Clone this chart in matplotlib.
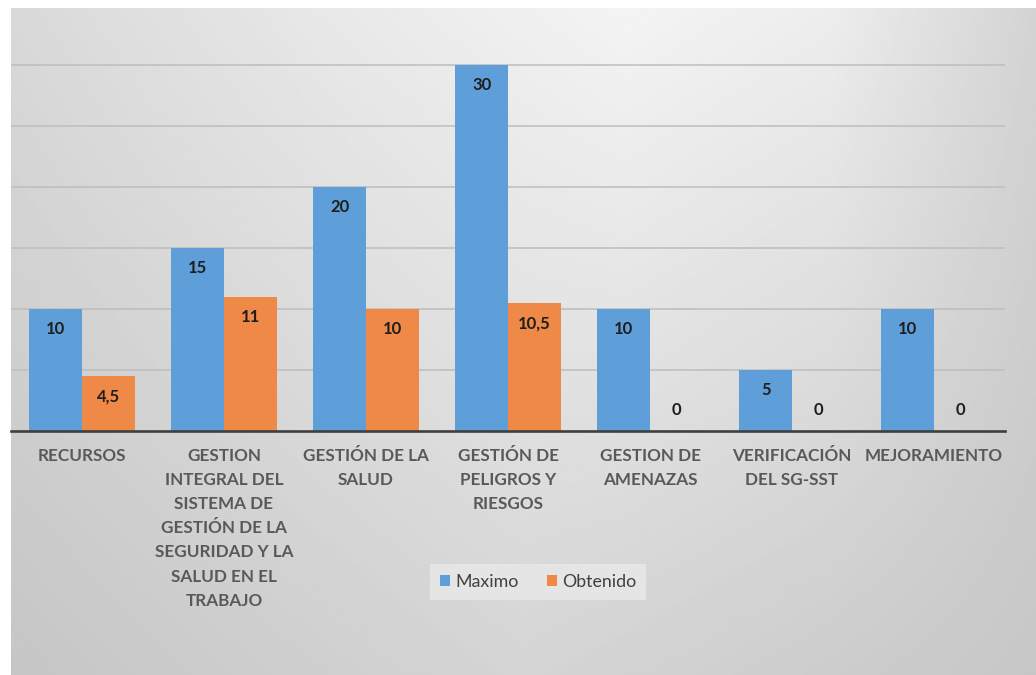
import numpy as np
import matplotlib
matplotlib.use("Agg")
import matplotlib.pyplot as plt

categorias = ["RECURSOS",
              "GESTION\nINTEGRAL DEL\nSISTEMA DE\nGESTIÓN DE LA\nSEGURIDAD Y LA\nSALUD EN EL\nTRABAJO",
              "GESTIÓN DE LA\nSALUD",
              "GESTIÓN DE\nPELIGROS Y\nRIESGOS",
              "GESTION DE\nAMENAZAS",
              "VERIFICACIÓN\nDEL SG-SST",
              "MEJORAMIENTO"]
maximo = [10, 15, 20, 30, 10, 5, 10]
obtenido = [4.5, 11, 10, 10.5, 0, 0, 0]

W, H = 1036, 675
fig = plt.figure(figsize=(W/100, H/100), dpi=100, facecolor="white")

# fondo degradado (gris claro arriba al centro, mas oscuro hacia bordes/abajo)
bg = fig.add_axes([11/W, 0, 1-11/W, 1-8/H])
xs = np.linspace(0, 1, 400)
ys = np.linspace(0, 1, 300)
top = np.interp(xs, [0, 0.3, 0.6, 0.8, 1], [0.85, 0.91, 0.955, 0.93, 0.83])
bot = np.interp(xs, [0, 0.5, 1], [0.775, 0.835, 0.78])
img = top[None, :]*(1-ys[:, None]) + bot[None, :]*ys[:, None]
bg.imshow(img, cmap="gray", vmin=0, vmax=1, aspect="auto", extent=[0, 1, 1, 0])
bg.axis("off")

ax = fig.add_axes([11/W, (H-431)/H, 994/W, 34*12.2/H])
ax.patch.set_alpha(0)
x = np.arange(len(categorias))
w = 0.37
b1 = ax.bar(x - w/2, maximo, w, color="#5f9fd9", label="Maximo", zorder=3)
b2 = ax.bar(x + w/2, obtenido, w, color="#ef8947", label="Obtenido", zorder=3)

for bars, vals in [(b1, maximo), (b2, obtenido)]:
    for r, v in zip(bars, vals):
        txt = ("%g" % v).replace(".", ",")
        off = -14.5 if v > 0 else 15
        ax.annotate(txt, (r.get_x()+r.get_width()/2, v), xytext=(0, off),
                    textcoords="offset points", ha="center", va="center",
                    fontsize=12, fontweight="bold", color="#1e1e1e",
                    family="Lato", zorder=4)

ax.set_xlim(-0.5, len(categorias)-0.5)
ax.set_ylim(0, 34)
ax.set_yticks(np.arange(5, 35, 5))
ax.yaxis.grid(True, color="#bdbdbd", lw=1.1)
ax.set_axisbelow(True)
ax.tick_params(axis="y", left=False, labelleft=False)
ax.tick_params(axis="x", length=0, pad=12)
ax.set_xticks(x)
ax.set_xticklabels(categorias, fontsize=12.3, fontweight="bold", color="#595959",
                   family="Lato", linespacing=1.63, va="top")
for s in ["top", "right", "left"]:
    ax.spines[s].set_visible(False)
ax.spines["bottom"].set_color("#3f3f3f")
ax.spines["bottom"].set_linewidth(1.9)
ax.spines["bottom"].set_zorder(5)

leg = fig.legend(loc="center", bbox_to_anchor=(538/W, 1-582/H), ncol=2,
                 frameon=True, fancybox=False, handlelength=0.55, handleheight=0.55,
                 handletextpad=0.3, columnspacing=1.6, borderpad=0.55,
                 prop={"family": "Lato", "size": 12.8})
leg.get_frame().set_facecolor("#e9e9e9")
leg.get_frame().set_edgecolor("none")
leg.get_frame().set_alpha(0.8)
for t in leg.get_texts():
    t.set_color("#404040")

fig.savefig("out.png", dpi=100, facecolor="white")
